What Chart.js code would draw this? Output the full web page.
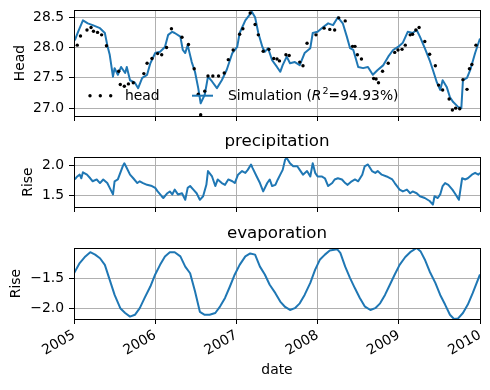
<!DOCTYPE html>
<html>
<head>
<meta charset="utf-8">
<script src="https://cdn.jsdelivr.net/npm/chart.js@4.4.1/dist/chart.umd.min.js"></script>
<style>
  html, body { margin: 0; padding: 0; background: #fff; }
  #fig { position: relative; width: 490px; height: 390px; }
  canvas { position: absolute; left: 0; }
</style>
</head>
<body>
<div id="fig">
  <canvas id="headChart" width="490" height="126" style="top:0px"></canvas>
  <canvas id="precChart" width="490" height="88" style="top:126px"></canvas>
  <canvas id="evapChart" width="490" height="176" style="top:214px"></canvas>
</div>
<script>
// observed heads (dots)
const obsYears = [2005.04, 2005.08, 2005.16, 2005.21, 2005.24, 2005.29, 2005.34, 2005.40, 2005.55, 2005.57,
  2005.62, 2005.67, 2005.73, 2005.86, 2005.90, 2005.96, 2006.03, 2006.08, 2006.14, 2006.20,
  2006.33, 2006.41, 2006.48, 2006.53, 2006.56, 2006.61, 2006.65, 2006.71, 2006.78, 2006.85,
  2006.90, 2006.96, 2007.04, 2007.08, 2007.17, 2007.23, 2007.27, 2007.33, 2007.40, 2007.46,
  2007.50, 2007.53, 2007.61, 2007.65, 2007.78, 2007.82, 2007.87, 2007.98, 2008.08, 2008.15,
  2008.21, 2008.26, 2008.34, 2008.43, 2008.46, 2008.49, 2008.54, 2008.69, 2008.72, 2008.75,
  2008.80, 2008.87, 2008.95, 2008.99, 2009.04, 2009.08, 2009.14, 2009.17, 2009.21, 2009.25,
  2009.32, 2009.38, 2009.45, 2009.49, 2009.54, 2009.62, 2009.66, 2009.70, 2009.75, 2009.79,
  2009.84, 2009.87, 2009.90, 2009.95];
const obsHead = [28.04, 28.19, 28.29, 28.33, 28.27, 28.25, 28.21, 28.03, 27.61, 27.39,
  27.36, 27.40, 27.42, 27.57, 27.74, 27.82, 27.90, 27.88, 28.00, 28.31,
  28.17, 28.05, 27.65, 27.23, 26.89, 27.28, 27.53, 27.53, 27.53, 27.58,
  27.80, 27.96, 28.22, 28.31, 28.57, 28.38, 28.21, 27.94, 27.97, 27.82,
  27.81, 27.78, 27.88, 27.87, 27.76, 27.70, 28.07, 28.21, 28.32, 28.30,
  28.29, 28.49, 28.44, 28.02, 28.02, 27.88, 27.81, 27.49, 27.48, 27.42,
  27.61, 27.74, 27.92, 27.96, 27.97, 28.04, 28.21, 28.22, 28.29, 28.33,
  28.10, 27.89, 27.70, 27.38, 27.30, 27.15, 26.97, 27.00, 26.99, 27.47,
  27.31, 27.65, 27.72, 28.04];

// simulated heads (line)
const simYears = [2005.01, 2005.05, 2005.11, 2005.17, 2005.23, 2005.32, 2005.38, 2005.41, 2005.44, 2005.48,
  2005.50, 2005.54, 2005.58, 2005.63, 2005.65, 2005.69, 2005.75, 2005.79, 2005.84, 2005.90,
  2005.94, 2006.00, 2006.06, 2006.12, 2006.16, 2006.21, 2006.24, 2006.31, 2006.34, 2006.37,
  2006.40, 2006.45, 2006.49, 2006.53, 2006.56, 2006.61, 2006.65, 2006.70, 2006.76, 2006.82,
  2006.88, 2006.95, 2007.01, 2007.04, 2007.11, 2007.19, 2007.23, 2007.27, 2007.32, 2007.35,
  2007.39, 2007.44, 2007.50, 2007.54, 2007.57, 2007.62, 2007.66, 2007.72, 2007.78, 2007.84,
  2007.91, 2007.94, 2008.00, 2008.07, 2008.13, 2008.19, 2008.25, 2008.31, 2008.36, 2008.40,
  2008.44, 2008.50, 2008.56, 2008.62, 2008.68, 2008.74, 2008.81, 2008.87, 2008.93, 2008.99,
  2009.05, 2009.11, 2009.17, 2009.22, 2009.26, 2009.32, 2009.38, 2009.42, 2009.47, 2009.51,
  2009.54, 2009.59, 2009.63, 2009.67, 2009.73, 2009.77, 2009.79, 2009.84, 2009.88, 2009.94,
  2010.00];
const simHead = [28.12, 28.26, 28.45, 28.40, 28.37, 28.32, 28.24, 28.04, 27.88, 27.52,
  27.66, 27.55, 27.68, 27.58, 27.68, 27.46, 27.42, 27.33, 27.50, 27.55,
  27.74, 27.91, 27.93, 28.01, 28.21, 28.26, 28.24, 28.18, 27.96, 27.91,
  28.04, 27.76, 27.60, 27.33, 27.08, 27.22, 27.52, 27.44, 27.33, 27.46,
  27.63, 27.91, 28.01, 28.24, 28.45, 28.59, 28.50, 28.24, 28.01, 27.93,
  27.99, 27.79, 27.68, 27.60, 27.71, 27.85, 27.74, 27.76, 27.71, 27.91,
  27.99, 28.24, 28.26, 28.34, 28.40, 28.37, 28.50, 28.40, 28.18, 27.99,
  27.96, 27.68, 27.66, 27.68, 27.55, 27.63, 27.71, 27.85, 27.96, 28.01,
  28.08, 28.26, 28.24, 28.29, 28.18, 27.99, 27.79, 27.63, 27.42, 27.30,
  27.46, 27.35, 27.18, 27.10, 27.02, 27.00, 27.46, 27.50, 27.63, 27.91,
  28.15];

// precipitation response
const precYears = [2005.01, 2005.04, 2005.07, 2005.09, 2005.11, 2005.16, 2005.20, 2005.23, 2005.28, 2005.32,
  2005.36, 2005.41, 2005.44, 2005.48, 2005.50, 2005.54, 2005.57, 2005.60, 2005.62, 2005.65,
  2005.69, 2005.73, 2005.78, 2005.81, 2005.85, 2005.90, 2005.96, 2006.00, 2006.03, 2006.08,
  2006.10, 2006.15, 2006.18, 2006.21, 2006.24, 2006.28, 2006.33, 2006.37, 2006.40, 2006.43,
  2006.47, 2006.51, 2006.55, 2006.59, 2006.63, 2006.65, 2006.70, 2006.74, 2006.77, 2006.82,
  2006.86, 2006.90, 2006.95, 2006.98, 2007.02, 2007.07, 2007.11, 2007.14, 2007.18, 2007.20,
  2007.25, 2007.29, 2007.33, 2007.38, 2007.41, 2007.44, 2007.48, 2007.51, 2007.54, 2007.57,
  2007.60, 2007.62, 2007.66, 2007.70, 2007.75, 2007.78, 2007.82, 2007.87, 2007.91, 2007.94,
  2007.97, 2008.00, 2008.05, 2008.09, 2008.13, 2008.18, 2008.21, 2008.25, 2008.30, 2008.34,
  2008.37, 2008.42, 2008.46, 2008.50, 2008.55, 2008.58, 2008.62, 2008.67, 2008.71, 2008.74,
  2008.79, 2008.85, 2008.92, 2008.95, 2009.01, 2009.05, 2009.10, 2009.14, 2009.17, 2009.22,
  2009.26, 2009.32, 2009.38, 2009.42, 2009.44, 2009.48, 2009.51, 2009.54, 2009.57, 2009.61,
  2009.66, 2009.69, 2009.74, 2009.78, 2009.82, 2009.85, 2009.90, 2009.94, 2009.98, 2010.00];
const precRise = [1.77, 1.82, 1.85, 1.79, 1.89, 1.85, 1.79, 1.74, 1.77, 1.71,
  1.77, 1.71, 1.63, 1.52, 1.74, 1.77, 1.88, 1.99, 2.04, 1.96,
  1.85, 1.79, 1.71, 1.74, 1.71, 1.68, 1.66, 1.63, 1.57, 1.49,
  1.46, 1.54, 1.57, 1.52, 1.60, 1.52, 1.54, 1.43, 1.63, 1.66,
  1.60, 1.54, 1.43, 1.49, 1.68, 1.91, 1.82, 1.66, 1.77, 1.71,
  1.68, 1.77, 1.74, 1.71, 1.85, 1.91, 1.88, 1.93, 2.02, 1.96,
  1.82, 1.71, 1.57, 1.71, 1.77, 1.66, 1.68, 1.77, 1.85, 1.93,
  2.10, 2.13, 2.04, 1.99, 1.99, 1.93, 1.85, 1.91, 1.82, 2.04,
  1.88, 1.82, 1.82, 1.79, 1.66, 1.71, 1.77, 1.79, 1.77, 1.71,
  1.68, 1.74, 1.77, 1.74, 1.85, 1.99, 2.02, 1.91, 1.88, 1.91,
  1.85, 1.82, 1.77, 1.71, 1.60, 1.57, 1.60, 1.54, 1.57, 1.54,
  1.49, 1.46, 1.41, 1.35, 1.49, 1.46, 1.52, 1.66, 1.71, 1.68,
  1.60, 1.54, 1.43, 1.79, 1.77, 1.79, 1.85, 1.88, 1.85, 1.88];

// evaporation response
const evapYears = [2005.00, 2005.07, 2005.14, 2005.20, 2005.26, 2005.32, 2005.38, 2005.44, 2005.50, 2005.57,
  2005.63, 2005.69, 2005.75, 2005.81, 2005.87, 2005.94, 2006.00, 2006.06, 2006.12, 2006.18,
  2006.24, 2006.31, 2006.37, 2006.43, 2006.49, 2006.55, 2006.61, 2006.67, 2006.74, 2006.80,
  2006.86, 2006.92, 2006.98, 2007.04, 2007.11, 2007.17, 2007.23, 2007.29, 2007.35, 2007.41,
  2007.48, 2007.54, 2007.60, 2007.66, 2007.72, 2007.78, 2007.84, 2007.91, 2007.97, 2008.03,
  2008.09, 2008.15, 2008.24, 2008.28, 2008.34, 2008.40, 2008.46, 2008.52, 2008.58, 2008.65,
  2008.71, 2008.77, 2008.83, 2008.89, 2008.95, 2009.01, 2009.08, 2009.14, 2009.22, 2009.27,
  2009.32, 2009.38, 2009.45, 2009.51, 2009.57, 2009.63, 2009.68, 2009.73, 2009.79, 2009.85,
  2009.91, 2010.00];
const evapRise = [-1.42, -1.25, -1.14, -1.07, -1.11, -1.17, -1.28, -1.53, -1.78, -2.00,
  -2.08, -2.14, -2.11, -2.00, -1.83, -1.64, -1.44, -1.28, -1.14, -1.07,
  -1.07, -1.14, -1.31, -1.42, -1.72, -2.06, -2.11, -2.11, -2.08, -1.97,
  -1.83, -1.64, -1.44, -1.28, -1.14, -1.09, -1.11, -1.31, -1.44, -1.61,
  -1.75, -1.89, -1.98, -2.03, -2.00, -1.92, -1.78, -1.58, -1.36, -1.19,
  -1.11, -1.04, -1.02, -1.08, -1.31, -1.50, -1.67, -1.83, -1.97, -2.03,
  -2.00, -1.92, -1.78, -1.61, -1.44, -1.28, -1.15, -1.07, -1.00, -1.06,
  -1.19, -1.39, -1.58, -1.78, -1.94, -2.11, -2.18, -2.17, -2.08, -1.94,
  -1.75, -1.44];

const yearTicks = [2005, 2006, 2007, 2008, 2009, 2010];
const headTicks = [27.0, 27.5, 28.0, 28.5];
const precTicks = [1.5, 2.0];
const evapTicks = [-2.0, -1.5];
const seriesNames = ['head', 'Simulation'];
const fitText = '94.93%';

Chart.defaults.font.family = "'DejaVu Sans', sans-serif";
Chart.defaults.font.size = 13.9;
Chart.defaults.color = '#000';
Chart.defaults.animation = false;

const blue = '#1f77b4';
const gridColor = '#b0b0b0';

function pts(xs, ys) {
  return xs.map((x, i) => ({ x: x, y: ys[i] }));
}

// black box round each plot, like matplotlib spines
const frame = {
  id: 'frame',
  afterDatasetsDraw(chart) {
    const a = chart.chartArea, ctx = chart.ctx;
    ctx.save();
    ctx.strokeStyle = '#000';
    ctx.lineWidth = 1;
    ctx.strokeRect(Math.round(a.left) + 0.5, Math.round(a.top) + 0.5,
      Math.round(a.right - a.left), Math.round(a.bottom - a.top));
    ctx.restore();
  }
};

// legend inside the head plot, no frame
const headLegend = {
  id: 'headLegend',
  afterDraw(chart) {
    const ctx = chart.ctx, a = chart.chartArea;
    const mid = a.top + 85.7, base = a.top + 90;
    ctx.save();
    ctx.fillStyle = '#000';
    [16, 26.3, 36.7].forEach(dx => {
      ctx.beginPath();
      ctx.arc(a.left + dx, mid, 1.7, 0, Math.PI * 2);
      ctx.fill();
    });
    ctx.font = "13.9px 'DejaVu Sans'";
    ctx.textBaseline = 'alphabetic';
    ctx.fillText(seriesNames[0], a.left + 51, base);

    ctx.strokeStyle = blue;
    ctx.lineWidth = 2;
    ctx.beginPath();
    ctx.moveTo(a.left + 118, mid);
    ctx.lineTo(a.left + 139, mid);
    ctx.stroke();

    let x = a.left + 154;
    const parts = [
      [seriesNames[1] + ' (', "13.9px 'DejaVu Sans'", 0],
      ['R', "italic 13.9px 'DejaVu Sans'", 0],
      ['2', "9.5px 'DejaVu Sans'", -6.5],
      ['=' + fitText + ')', "13.9px 'DejaVu Sans'", 0]
    ];
    parts.forEach(p => {
      ctx.font = p[1];
      ctx.fillText(p[0], x, base + p[2]);
      x += ctx.measureText(p[0]).width + (p[0] === 'R' ? 1 : 0);
    });
    ctx.restore();
  }
};

function axes(o) {
  return {
    x: {
      type: 'linear', min: 2005, max: 2010,
      afterBuildTicks: s => { s.ticks = yearTicks.map(v => ({ value: v })); },
      afterFit: s => { s.height = o.xHeight; s.paddingLeft = 0; s.paddingRight = 0; },
      grid: { color: gridColor, tickColor: '#000', tickLength: 5, lineWidth: 1 },
      border: { display: false },
      ticks: {
        display: o.xLabels, autoSkip: false, minRotation: 30, maxRotation: 30,
        padding: 3, callback: v => String(v)
      },
      title: { display: o.xLabels, text: 'date', padding: { top: 0, bottom: 10.8 } }
    },
    y: {
      min: o.min, max: o.max,
      afterBuildTicks: s => { s.ticks = o.ticks.map(v => ({ value: v })); },
      afterFit: s => { s.width = 74; s.paddingTop = 0; s.paddingBottom = 0; },
      grid: { color: gridColor, tickColor: '#000', tickLength: 5, lineWidth: 1 },
      border: { display: false },
      ticks: { padding: 5, callback: v => v.toFixed(1).replace('-', '\u2212') },
      title: { display: true, text: o.yTitle, padding: { top: o.titlePad, bottom: 0 } }
    }
  };
}

function baseOptions(o) {
  return {
    responsive: false,
    devicePixelRatio: 1,
    animation: false,
    events: [],
    layout: { padding: { top: o.padTop, right: 10, bottom: 0, left: 0 } },
    plugins: {
      legend: { display: false },
      tooltip: { enabled: false },
      title: o.title ? {
        display: true, text: o.title, fullSize: false, color: '#000',
        font: { size: 16.7, weight: 'normal' },
        padding: { top: o.tTop, bottom: o.tBottom }
      } : { display: false }
    },
    scales: axes(o)
  };
}

const lineStyle = {
  borderColor: blue, borderWidth: 2, pointRadius: 0, tension: 0,
  borderJoinStyle: 'round', fill: false
};

new Chart(document.getElementById('headChart'), {
  type: 'line',
  data: {
    datasets: [
      { label: seriesNames[0], data: pts(obsYears, obsHead), showLine: false,
        pointRadius: 1.7, pointBackgroundColor: '#000', pointBorderWidth: 0 },
      Object.assign({ label: seriesNames[1], data: pts(simYears, simHead) }, lineStyle)
    ]
  },
  options: baseOptions({ padTop: 10, xHeight: 10, xLabels: false, min: 26.87, max: 28.62,
    ticks: headTicks, yTitle: 'Head', titlePad: 11.9 }),
  plugins: [frame, headLegend]
});

new Chart(document.getElementById('precChart'), {
  type: 'line',
  data: {
    datasets: [Object.assign({ label: 'precipitation', data: pts(precYears, precRise) }, lineStyle)]
  },
  options: baseOptions({ padTop: 0, xHeight: 7, xLabels: false, min: 1.31, max: 2.145,
    ticks: precTicks, yTitle: 'Rise', titlePad: 20.5,
    title: 'precipitation', tTop: 5.5, tBottom: 5.46 }),
  plugins: [frame]
});

new Chart(document.getElementById('evapChart'), {
  type: 'line',
  data: {
    datasets: [Object.assign({ label: 'evaporation', data: pts(evapYears, evapRise) }, lineStyle)]
  },
  options: baseOptions({ padTop: 0, xHeight: 71, xLabels: true, min: -2.18, max: -1.0,
    ticks: evapTicks, yTitle: 'Rise', titlePad: 8.5,
    title: 'evaporation', tTop: 9.5, tBottom: 4.46 }),
  plugins: [frame]
});
</script>
</body>
</html>
